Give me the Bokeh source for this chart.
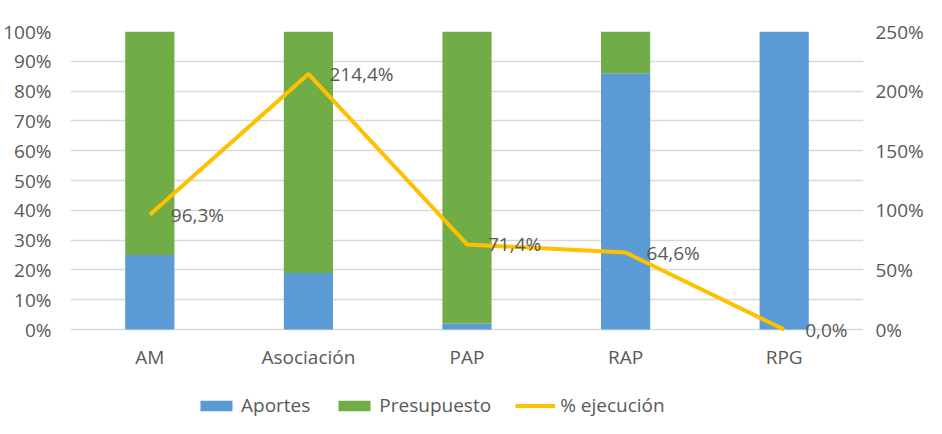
from bokeh.plotting import figure
from bokeh.layouts import column
from bokeh.models import (ColumnDataSource, Range1d, LinearAxis, FixedTicker, Legend, LegendItem)
from bokeh.core.properties import value
from bokeh.embed import file_html
from bokeh.resources import INLINE

categories = ["AM", "Asociación", "PAP", "RAP", "RPG"]
aportes = [25, 19, 2, 86, 100]
presupuesto = [75, 81, 98, 14, 0]
ejecucion = [96.3, 214.4, 71.4, 64.6, 0.0]
left_ticks = [0, 10, 20, 30, 40, 50, 60, 70, 80, 90, 100]
right_ticks = [0, 50, 100, 150, 200, 250]

BLUE = "#5b9bd5"
GREEN = "#70ad47"
ORANGE = "#ffc000"
TXT = "#595959"
FONT = "Open Sans"
FS = "19px"

source = ColumnDataSource(dict(
    cat=categories, aportes=aportes, presupuesto=presupuesto, ejec=ejecucion,
    lab=[f"{v:.1f}".replace(".", ",") + "%" for v in ejecucion],
))

p = figure(x_range=categories, y_range=Range1d(-4, 100), width=926, height=372,
           output_backend="svg", toolbar_location=None,
           min_border_left=70, min_border_right=60, min_border_top=31, min_border_bottom=29)
p.outline_line_color = None
p.background_fill_color = "white"
p.border_fill_color = "white"

p.extra_y_ranges = {"pct": Range1d(-10, 250)}

bars = p.vbar_stack(["aportes", "presupuesto"], x="cat", width=0.31, color=[BLUE, GREEN],
                    line_color=None, source=source)
line = p.line(x="cat", y="ejec", source=source, y_range_name="pct", line_color=ORANGE,
              line_width=4)
p.text(x="cat", y="ejec", text="lab", source=source, y_range_name="pct", x_offset=21,
       text_baseline="middle", text_align="left", text_color=TXT, text_font=value(FONT),
       text_font_size=FS)

la = p.yaxis[0]
la.ticker = FixedTicker(ticks=left_ticks)
la.major_label_overrides = {t: f"{t}%" for t in left_ticks}
ra = LinearAxis(y_range_name="pct", ticker=FixedTicker(ticks=right_ticks))
ra.major_label_overrides = {t: f"{t}%" for t in right_ticks}
p.add_layout(ra, "right")

for ax in [la, ra, p.xaxis[0]]:
    ax.axis_line_color = None
    ax.major_tick_line_color = None
    ax.minor_tick_line_color = None
    ax.major_tick_out = 0
    ax.major_tick_in = 0
    ax.major_label_text_color = TXT
    ax.major_label_text_font = FONT
    ax.major_label_text_font_size = FS
la.major_label_standoff = 19
ra.major_label_standoff = 12
p.xaxis[0].major_label_standoff = 2

p.xgrid.grid_line_color = None
p.ygrid.ticker = FixedTicker(ticks=left_ticks)
p.ygrid.grid_line_color = "#d9d9d9"
p.ygrid.grid_line_width = 1.5

# legend strip below the chart (glyphs kept out of its visible range)
p2 = figure(x_range=categories, y_range=Range1d(1000, 1001), width=926, height=46,
            output_backend="svg", toolbar_location=None,
            min_border_left=0, min_border_right=0, min_border_top=0, min_border_bottom=0)
p2.outline_line_color = None
p2.axis.visible = False
p2.grid.grid_line_color = None
lb = p2.vbar_stack(["aportes", "presupuesto"], x="cat", width=0.31, color=[BLUE, GREEN],
                   line_color=None, source=source)
ll = p2.line(x="cat", y="ejec", source=source, line_color=ORANGE, line_width=4)

legend = Legend(items=[
    LegendItem(label="Aportes", renderers=[lb[0]]),
    LegendItem(label="Presupuesto", renderers=[lb[1]]),
    LegendItem(label="% ejecución", renderers=[ll]),
], orientation="horizontal", location=(126, 0), border_line_color=None,
    background_fill_alpha=0, label_text_font=FONT, label_text_font_size=FS,
    label_text_color=TXT, glyph_width=40, glyph_height=13, label_standoff=5,
    spacing=24, margin=0, padding=2)
p2.add_layout(legend, "center")

open("out.html", "w").write(file_html(column(p, p2, spacing=0), INLINE))
